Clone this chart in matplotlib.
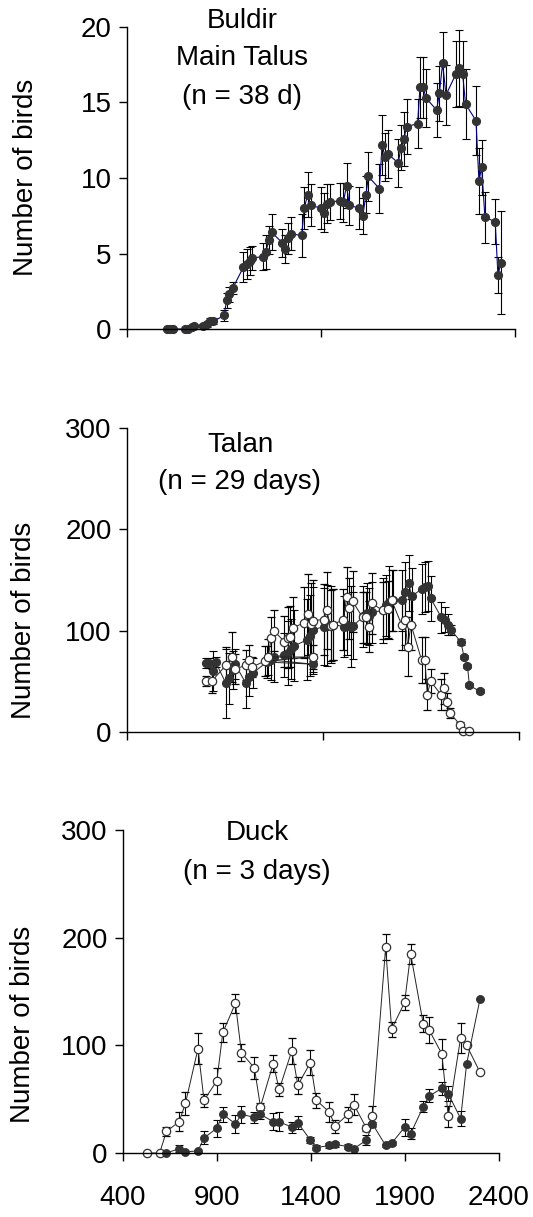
import matplotlib
matplotlib.use("Agg")
import matplotlib.pyplot as plt

plt.rcParams['font.family'] = ['Liberation Sans', 'DejaVu Sans']

# Buldir Main Talus
buldir_x = [604, 621, 639, 699, 716, 733, 745, 793, 811, 828, 845,
            900, 914, 927, 945, 1000, 1017, 1034, 1046, 1103, 1115, 1132, 1146,
            1201, 1214, 1228, 1244, 1300, 1314, 1331, 1347, 1398, 1415, 1433, 1446,
            1498, 1515, 1532, 1546, 1597, 1615, 1632, 1644, 1701, 1715, 1730, 1744,
            1798, 1812, 1828, 1841, 1898, 1910, 1927, 1941, 1996, 2010, 2027, 2044,
            2096, 2113, 2130, 2145, 2199, 2214, 2228, 2245, 2298, 2312, 2329]
buldir_y = [0, 0, 0, 0, 0, 0.1, 0.2, 0.2, 0.3, 0.55, 0.5,
            0.9, 1.9, 2.3, 2.7, 4.1, 4.3, 4.5, 4.7, 4.8, 5.1, 5.9, 6.4,
            5.7, 5.3, 6.0, 6.3, 6.2, 8.0, 8.9, 8.2, 8.0, 7.7, 8.3, 8.4,
            8.5, 8.4, 9.5, 8.2, 8.0, 7.5, 8.9, 10.1, 9.3, 12.2, 11.4, 11.6,
            11.0, 12.0, 12.6, 13.4, 13.6, 16.0, 16.0, 15.3, 14.5, 15.6, 17.6, 15.5,
            16.9, 17.3, 16.9, 14.9, 13.8, 9.8, 10.7, 7.4, 7.1, 3.6, 4.4]
buldir_err = [0.05, 0.05, 0.05, 0.05, 0.05, 0.1, 0.1, 0.1, 0.15, 0.2, 0.2,
              0.35, 0.5, 0.5, 0.4, 1.0, 1.0, 0.9, 0.8, 0.9, 1.1, 0.9, 1.2,
              0.9, 0.9, 1.0, 1.1, 1.4, 1.4, 1.5, 1.4, 1.4, 1.3, 1.3, 1.2,
              1.2, 1.3, 1.5, 1.3, 1.4, 1.2, 1.2, 1.6, 1.6, 2.0, 1.6, 1.6,
              1.6, 1.5, 1.8, 1.8, 1.6, 2.0, 2.0, 1.9, 1.8, 1.8, 2.1, 2.0,
              2.2, 2.5, 2.2, 2.3, 2.3, 2.2, 1.8, 1.7, 1.5, 1.2, 3.4]

# Talan, filled symbols
talan_f_x = [803, 820, 837, 852, 905, 922, 939, 951, 1007, 1024, 1041,
             1113, 1347, 1135, 1150, 1203, 1220, 1237, 1252, 1320, 1334, 1351,
             1405, 1418, 1439, 1452, 1507, 1524, 1541, 1555, 1606, 1623, 1636, 1650,
             1704, 1721, 1738, 1755, 1803, 1820, 1837, 1852, 1903, 1920, 1937, 1949,
             2004, 2023, 2040, 2052, 2103, 2120, 2137, 2147, 2201]
talan_f_y = [68, 68, 60, 69, 48, 53, 61, 67, 48, 54, 58,
             69, 67, 71, 74, 76, 78, 82, 85, 91, 95, 101,
             104, 105, 106, 106, 104, 106, 104, 105, 114, 117, 114, 118,
             120, 125, 128, 130, 130, 138, 147, 134, 141, 143, 144, 132,
             113, 111, 106, 101, 89, 74, 65, 46, 40]
talan_f_err = [5, 5, 20, 5, 34, 25, 19, 15, 24, 18, 15,
               16, 10, 20, 25, 22, 32, 30, 35, 40, 40, 42,
               38, 40, 38, 35, 30, 30, 40, 33, 30, 30, 28, 30,
               32, 30, 36, 30, 30, 30, 28, 28, 25, 25, 25, 22,
               15, 12, 10, 5, 3, 2, 2, 2, 2]

# Talan, open symbols
talan_o_x = [803, 832, 905, 934, 951, 1007, 1024, 1036,
             1104, 1347, 1121, 1135, 1150, 1203, 1220, 1233, 1249,
             1305, 1322, 1337, 1347, 1405, 1418, 1439, 1452,
             1504, 1521, 1534, 1551, 1602, 1619, 1636, 1650,
             1704, 1730, 1750, 1801, 1818, 1832, 1849,
             1903, 1920, 1932, 1949, 2002, 2017, 2034, 2048, 2099, 2116, 2143]
talan_o_y = [50, 50, 66, 74, 62, 66, 71, 64,
             70, 74, 74, 93, 100, 89, 93, 94, 103,
             108, 116, 107, 110, 111, 120, 105, 106,
             111, 133, 122, 129, 113, 113, 104, 127,
             120, 121, 130, 106, 111, 84, 106,
             71, 71, 37, 50, 37, 43, 30, 19, 7, 1, 1]
talan_o_err = [5, 12, 18, 25, 15, 15, 15, 10,
               15, 12, 18, 20, 20, 25, 30, 30, 30,
               35, 40, 40, 40, 35, 38, 35, 35,
               30, 30, 30, 30, 25, 25, 25, 30,
               28, 28, 30, 25, 25, 29, 25,
               23, 23, 15, 12, 15, 15, 8, 5, 3, 2, 2]

# Duck, open symbols
duck_o_x = [530, 595, 631, 698, 732, 799, 831, 899, 931, 998,
            1030, 1099, 1131, 1199, 1231, 1298, 1330, 1397, 1429, 1497,
            1529, 1596, 1628, 1695, 1727, 1797, 1829, 1898, 1930, 1997,
            2029, 2096, 2130, 2196, 2228, 2299]
duck_o_y = [0, 0, 20, 29, 46, 97, 49, 67, 112, 139,
            93, 79, 43, 83, 59, 95, 63, 84, 49, 38,
            25, 36, 45, 23, 34, 191, 115, 140, 185, 120,
            114, 92, 34, 107, 100, 75]
duck_o_err = [0, 0, 4, 9, 11, 14, 6, 12, 9, 9,
              8, 10, 3, 8, 6, 12, 8, 12, 7, 9,
              6, 7, 10, 3, 10, 12, 7, 7, 9, 8,
              12, 14, 10, 14, 0, 0]

# Duck, filled symbols
duck_f_x = [631, 698, 732, 799, 831, 899, 931, 998, 1030, 1099,
            1131, 1199, 1231, 1298, 1330, 1397, 1429, 1497, 1529, 1596,
            1628, 1695, 1727, 1797, 1829, 1898, 1930, 1997, 2029, 2096,
            2130, 2196, 2228, 2299]
duck_f_y = [0, 4, 1, 2, 14, 23, 36, 27, 36, 33,
            36, 29, 29, 24, 28, 12, 5, 7, 8, 6,
            4, 12, 27, 7, 9, 24, 18, 43, 53, 60,
            55, 32, 83, 143]
duck_f_err = [0, 3, 1, 1, 6, 8, 7, 8, 8, 5,
              4, 8, 9, 5, 6, 3, 2, 2, 2, 2,
              1, 5, 2, 1, 2, 8, 5, 5, 6, 6,
              7, 7, 0, 0]

W, H = 533, 1217
fig = plt.figure(figsize=(W / 100, H / 100), dpi=100)


def box(l, t, r, b):
    return [l / W, 1 - b / H, (r - l) / W, (b - t) / H]


ax1 = fig.add_axes(box(127, 27, 515, 329))
ax2 = fig.add_axes(box(127, 428, 519, 732))
ax3 = fig.add_axes(box(123, 830, 499, 1153))

dark = '#333333'
eb = dict(ecolor='black', elinewidth=0.8, capsize=2.6, capthick=0.8)

ax1.errorbar(buldir_x, buldir_y, yerr=buldir_err, fmt='-o', color='#000080', lw=0.8,
             ms=5.6, mfc=dark, mec=dark, **eb)

ax2.errorbar(talan_f_x, talan_f_y, yerr=talan_f_err, fmt='-o', color='#222222', lw=0.7,
             ms=5.6, mfc=dark, mec=dark, **eb)
ax2.errorbar(talan_o_x, talan_o_y, yerr=talan_o_err, fmt='-o', color='#222222', lw=0.7,
             ms=6.0, mfc='white', mec=dark, mew=0.9, **eb)

ax3.errorbar(duck_o_x, duck_o_y, yerr=duck_o_err, fmt='-o', color='#222222', lw=0.7,
             ms=6.0, mfc='white', mec=dark, mew=0.9, **eb)
ax3.errorbar(duck_f_x, duck_f_y, yerr=duck_f_err, fmt='-o', color='#222222', lw=0.7,
             ms=5.4, mfc=dark, mec=dark, **eb)

for ax in (ax1, ax2, ax3):
    for s in ('top', 'right'):
        ax.spines[s].set_visible(False)
    for s in ('left', 'bottom'):
        ax.spines[s].set_linewidth(1.0)
    ax.set_xlim(400, 2400)
    ax.tick_params(direction='out', length=6, width=1.0, labelsize=20, pad=5)

ax1.set_ylim(0, 20)
ax1.set_yticks([0, 5, 10, 15, 20])
ax2.set_ylim(0, 300)
ax2.set_yticks([0, 100, 200, 300])
ax3.set_ylim(0, 300)
ax3.set_yticks([0, 100, 200, 300])

for ax in (ax1, ax2):
    ax.set_xticks([400, 1400, 2400])
    ax.set_xticklabels([])
ax3.set_xticks([400, 900, 1400, 1900, 2400])
ax3.tick_params(axis='x', pad=17)

for ax in (ax1, ax2, ax3):
    for line in ax.get_lines():
        line.set_clip_on(False)


def ftext(x, y, s, **kw):
    fig.text(x / W, 1 - y / H, s, fontsize=20, ha='center', va='center', **kw)


ftext(26, 177, 'Number of birds', rotation=90)
ftext(24, 620, 'Number of birds', rotation=90)
ftext(23, 1024, 'Number of birds', rotation=90)

ftext(242, 21, 'Buldir')
ftext(242, 58, 'Main Talus')
ftext(242, 97, '(n = 38 d)')
ftext(241, 445, 'Talan')
ftext(240, 482, '(n = 29 days)')
ftext(257, 833, 'Duck')
ftext(257, 872, '(n = 3 days)')

fig.savefig('out.png', dpi=100)
